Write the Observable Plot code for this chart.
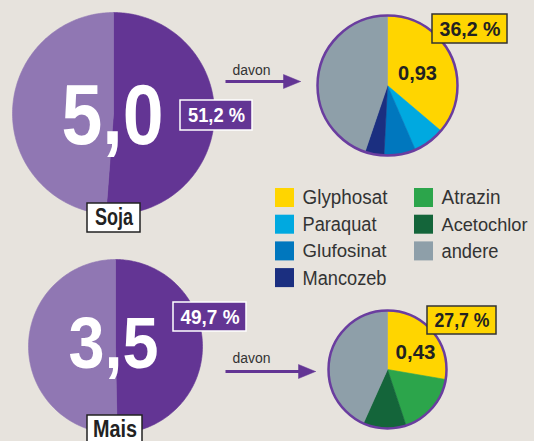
<!DOCTYPE html>
<html><head><meta charset="utf-8">
<script src="https://cdn.jsdelivr.net/npm/d3@7"></script>
<script src="https://cdn.jsdelivr.net/npm/@observablehq/plot@0.6"></script>
<style>
html,body{margin:0;padding:0;background:#e7e3dd;}
svg{display:block;}
</style></head><body><div id="chart"></div>
<script>
// ---- data ----
const crops = ["Soja", "Mais"];
const totals = ["5,0", "3,5"];               // Mio. t total
const shares = [51.2, 49.7];                 // % share (dark half)
const shareLabels = ["51,2 %", "49,7 %"];
const subTotals = ["0,93", "0,43"];
const glyphLabels = ["36,2 %", "27,7 %"];
const sojaAgents = ["Glyphosat", "Paraquat", "Glufosinat", "Mancozeb", "andere"];
const sojaValues = [36.2, 7.3, 7.3, 4.4, 44.8];
const maisAgents = ["Glyphosat", "Atrazin", "Acetochlor", "andere"];
const maisValues = [27.7, 17.2, 11.8, 43.3];
const legendNames = ["Glyphosat", "Paraquat", "Glufosinat", "Mancozeb", "Atrazin", "Acetochlor", "andere"];
const legendColors = ["#ffd500", "#00a9e0", "#0077be", "#1b2f80", "#2ca54b", "#14653a", "#8e9fa9"];
const davon = "davon";

// ---- styling / layout ----
const BG = "#e7e3dd", DARK = "#633594", LIGHT = "#9077b3", RING = "#6a3d9f", INK = "#222";
const SANS = "'Liberation Sans', Arial, sans-serif";
const colorOf = n => legendColors[legendNames.indexOf(n)];
const layout = [
  {big: {cx: 113, cy: 113, r: 101}, num: {x: 112, y: 116, fs: 86},
   share: {x1: 180, x2: 252, y1: 100, y2: 130}, name: {x1: 87, x2: 140, y1: 203, y2: 232},
   arrow: {x1: 225, x2: 300, y: 81}, davon: {x: 232, y: 70.5},
   small: {cx: 387, cy: 85, r: 70}, glyph: {x1: 432, x2: 507, y1: 14, y2: 43}, sub: {x: 417, y: 73}},
  {big: {cx: 115, cy: 346, r: 87}, num: {x: 113, y: 344, fs: 73},
   share: {x1: 173, x2: 246, y1: 302, y2: 331}, name: {x1: 87, x2: 142, y1: 415, y2: 447},
   arrow: {x1: 225, x2: 315, y: 371}, davon: {x: 232, y: 358.5},
   small: {cx: 387, cy: 369, r: 59}, glyph: {x1: 427, x2: 496, y1: 306, y2: 334}, sub: {x: 415, y: 352}}
];
// rendered text widths (condensed look of the original typeface)
const textWidths = new Map([
  ["5,0", 102], ["3,5", 90], ["51,2 %", 57], ["49,7 %", 59], ["Soja", 38], ["Mais", 44],
  ["36,2 %", 61], ["27,7 %", 55], ["0,93", 39], ["0,43", 40], ["davon", 38],
  ["Glyphosat", 85], ["Paraquat", 74], ["Glufosinat", 84], ["Mancozeb", 84],
  ["Atrazin", 59], ["Acetochlor", 86], ["andere", 57]
]);

function slicePoints(values, colors, c, key) {
  const total = d3.sum(values);
  const pts = [];
  let acc = 0;
  values.forEach((v, i) => {
    const a0 = acc / total * 2 * Math.PI; acc += v;
    const a1 = acc / total * 2 * Math.PI;
    const id = key + i, fill = colors[i];
    pts.push({id, x: c.cx, y: c.cy, fill});
    const n = Math.max(2, Math.ceil((a1 - a0) / (Math.PI / 180)));
    for (let k = 0; k <= n; k++) {
      const a = a0 + (a1 - a0) * k / n;
      pts.push({id, x: c.cx + c.r * Math.sin(a), y: c.cy - c.r * Math.cos(a), fill});
    }
    pts.push({id, x: c.cx, y: c.cy, fill});
  });
  return pts;
}

const marks = [];
const subs = [
  {values: sojaValues, colors: sojaAgents.map(colorOf)},
  {values: maisValues, colors: maisAgents.map(colorOf)}
];
crops.forEach((crop, i) => {
  const L = layout[i];
  // big pie
  const bigPts = slicePoints([shares[i], 100 - shares[i]], [DARK, LIGHT], L.big, "big" + i);
  marks.push(Plot.line(bigPts, {x: "x", y: "y", z: "id", fill: "fill", stroke: "fill", strokeWidth: 0.6, curve: "linear"}));
  marks.push(Plot.text([totals[i]], {x: L.num.x, y: L.num.y, text: d => d, fontSize: L.num.fs, fontWeight: "bold", fill: "white", fontFamily: SANS}));
  // share box
  marks.push(Plot.rect([L.share], {x1: "x1", x2: "x2", y1: "y1", y2: "y2", fill: DARK, stroke: "white", strokeWidth: 1.5}));
  marks.push(Plot.text([shareLabels[i]], {x: (L.share.x1 + L.share.x2) / 2, y: (L.share.y1 + L.share.y2) / 2, text: d => d, fontSize: 21, fontWeight: "bold", fill: "white", fontFamily: SANS}));
  // name box
  marks.push(Plot.rect([L.name], {x1: "x1", x2: "x2", y1: "y1", y2: "y2", fill: "white", stroke: INK, strokeWidth: 1.5}));
  marks.push(Plot.text([crop], {x: (L.name.x1 + L.name.x2) / 2, y: L.name.y1 + 14, text: d => d, fontSize: 23, fontWeight: "bold", fill: INK, fontFamily: SANS}));
  // arrow
  marks.push(Plot.link([L.arrow], {x1: "x1", x2: d => d.x2 - 14, y1: "y", y2: "y", stroke: DARK, strokeWidth: 3}));
  const head = [{id: "h" + i, x: L.arrow.x2, y: L.arrow.y}, {id: "h" + i, x: L.arrow.x2 - 17, y: L.arrow.y - 7}, {id: "h" + i, x: L.arrow.x2 - 17, y: L.arrow.y + 7}, {id: "h" + i, x: L.arrow.x2, y: L.arrow.y}];
  marks.push(Plot.line(head, {x: "x", y: "y", z: "id", fill: DARK, stroke: DARK, strokeWidth: 0.5}));
  marks.push(Plot.text([davon], {x: L.davon.x, y: L.davon.y, text: d => d, fontSize: 14, fill: "#333", textAnchor: "start", fontFamily: SANS}));
  // small pie
  const smallPts = slicePoints(subs[i].values, subs[i].colors, L.small, "s" + i);
  marks.push(Plot.line(smallPts, {x: "x", y: "y", z: "id", fill: "fill", stroke: "fill", strokeWidth: 0.6, curve: "linear"}));
  marks.push(Plot.dot([L.small], {x: "cx", y: "cy", r: L.small.r, stroke: RING, strokeWidth: 2.5, fill: "none"}));
  marks.push(Plot.text([subTotals[i]], {x: L.sub.x, y: L.sub.y, text: d => d, fontSize: 21, fontWeight: "bold", fill: INK, fontFamily: SANS}));
  marks.push(Plot.rect([L.glyph], {x1: "x1", x2: "x2", y1: "y1", y2: "y2", fill: "#ffd500", stroke: "#333", strokeWidth: 1.5}));
  marks.push(Plot.text([glyphLabels[i]], {x: (L.glyph.x1 + L.glyph.x2) / 2, y: (L.glyph.y1 + L.glyph.y2) / 2, text: d => d, fontSize: 21, fontWeight: "bold", fill: INK, fontFamily: SANS}));
});

// legend
const legendItems = legendNames.map((name, i) => {
  const col = i < 4 ? 0 : 1, row = i < 4 ? i : i - 4;
  const x = col === 0 ? 275 : 414, y = 188 + row * 26.7;
  return {name, color: legendColors[i], x1: x, x2: x + 19, y1: y, y2: y + 19, tx: x + 27, ty: y + 9.5};
});
marks.push(Plot.rect(legendItems, {x1: "x1", x2: "x2", y1: "y1", y2: "y2", fill: "color"}));
marks.push(Plot.text(legendItems, {x: "tx", y: "ty", text: "name", textAnchor: "start", fontSize: d => d.name.length > 9 ? 19 : 20, fill: "#333", fontFamily: SANS}));

const chart = Plot.plot({
  width: 534, height: 441, margin: 0,
  x: {domain: [0, 534], range: [0, 534], axis: null},
  y: {domain: [0, 441], range: [0, 441], axis: null},
  color: {type: "identity"},
  style: {background: BG, overflow: "hidden"},
  marks
});
document.getElementById("chart").append(chart);
chart.querySelectorAll("text").forEach(t => {
  const w = textWidths.get(t.textContent);
  if (w) { t.setAttribute("textLength", w); t.setAttribute("lengthAdjust", "spacingAndGlyphs"); }
});
</script></body></html>
